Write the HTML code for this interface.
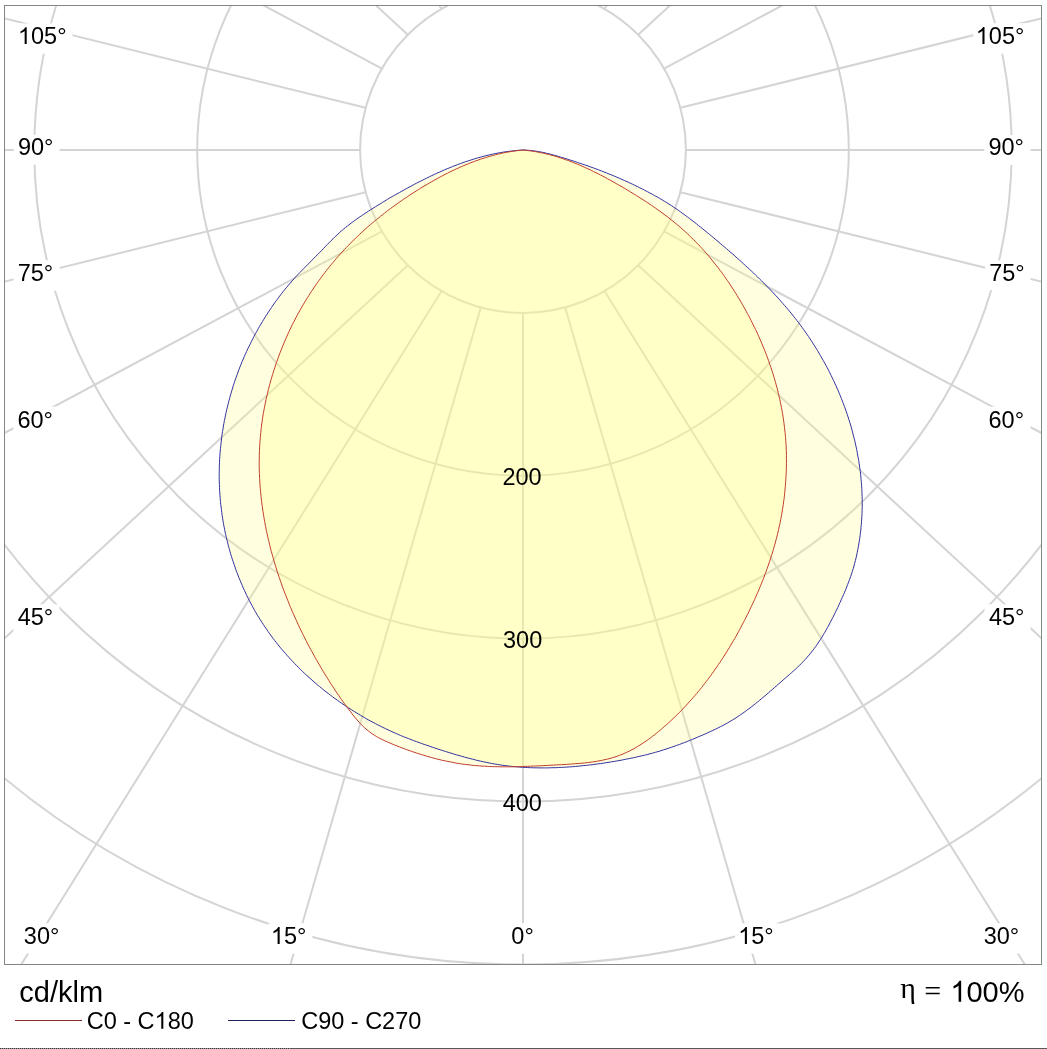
<!DOCTYPE html>
<html><head><meta charset="utf-8"><style>
html,body{margin:0;padding:0;background:#fff;width:1047px;height:1049px;overflow:hidden}
svg{display:block}
.t{font-family:"Liberation Sans",sans-serif;font-size:23.5px;fill:#000}
.t2{font-family:"Liberation Sans",sans-serif;font-size:29px;fill:#000}
.t3{font-family:"Liberation Serif",serif;font-size:30px;fill:#000}
</style></head><body>
<svg width="1047" height="1049" viewBox="0 0 1047 1049">
<defs><clipPath id="bx"><rect x="5" y="6" width="1036" height="958"/></clipPath></defs>
<rect x="0" y="0" width="1047" height="1049" fill="#fff"/>
<g clip-path="url(#bx)">
<circle cx="523.0" cy="150.0" r="162.9" fill="none" stroke="#d4d4d4" stroke-width="2"/>
<circle cx="523.0" cy="150.0" r="325.8" fill="none" stroke="#d4d4d4" stroke-width="2"/>
<circle cx="523.0" cy="150.0" r="488.7" fill="none" stroke="#d4d4d4" stroke-width="2"/>
<circle cx="523.0" cy="150.0" r="651.6" fill="none" stroke="#d4d4d4" stroke-width="2"/>
<circle cx="523.0" cy="150.0" r="814.5" fill="none" stroke="#d4d4d4" stroke-width="2"/>
<line x1="523.00" y1="312.90" x2="523.00" y2="965.00" stroke="#d4d4d4" stroke-width="2"/>
<line x1="480.84" y1="307.35" x2="290.33" y2="965.00" stroke="#d4d4d4" stroke-width="2"/>
<line x1="565.16" y1="307.35" x2="755.67" y2="965.00" stroke="#d4d4d4" stroke-width="2"/>
<line x1="441.55" y1="291.08" x2="20.91" y2="965.00" stroke="#d4d4d4" stroke-width="2"/>
<line x1="604.45" y1="291.08" x2="1025.09" y2="965.00" stroke="#d4d4d4" stroke-width="2"/>
<line x1="407.81" y1="265.19" x2="4.00" y2="638.71" stroke="#d4d4d4" stroke-width="2"/>
<line x1="638.19" y1="265.19" x2="1042.00" y2="638.71" stroke="#d4d4d4" stroke-width="2"/>
<line x1="381.92" y1="231.45" x2="4.00" y2="433.28" stroke="#d4d4d4" stroke-width="2"/>
<line x1="664.08" y1="231.45" x2="1042.00" y2="433.28" stroke="#d4d4d4" stroke-width="2"/>
<line x1="365.65" y1="192.16" x2="4.00" y2="281.80" stroke="#d4d4d4" stroke-width="2"/>
<line x1="680.35" y1="192.16" x2="1042.00" y2="281.80" stroke="#d4d4d4" stroke-width="2"/>
<line x1="360.10" y1="150.00" x2="4.00" y2="150.00" stroke="#d4d4d4" stroke-width="2"/>
<line x1="685.90" y1="150.00" x2="1042.00" y2="150.00" stroke="#d4d4d4" stroke-width="2"/>
<line x1="365.65" y1="107.84" x2="4.00" y2="18.20" stroke="#d4d4d4" stroke-width="2"/>
<line x1="680.35" y1="107.84" x2="1042.00" y2="18.20" stroke="#d4d4d4" stroke-width="2"/>
<line x1="381.92" y1="68.55" x2="262.93" y2="5.00" stroke="#d4d4d4" stroke-width="2"/>
<line x1="664.08" y1="68.55" x2="783.07" y2="5.00" stroke="#d4d4d4" stroke-width="2"/>
<line x1="407.81" y1="34.81" x2="375.58" y2="5.00" stroke="#d4d4d4" stroke-width="2"/>
<line x1="638.19" y1="34.81" x2="670.42" y2="5.00" stroke="#d4d4d4" stroke-width="2"/>
<line x1="441.55" y1="8.92" x2="439.10" y2="5.00" stroke="#d4d4d4" stroke-width="2"/>
<line x1="604.45" y1="8.92" x2="606.90" y2="5.00" stroke="#d4d4d4" stroke-width="2"/>
<line x1="480.84" y1="-7.35" x2="484.42" y2="5.00" stroke="#d4d4d4" stroke-width="2"/>
<line x1="565.16" y1="-7.35" x2="561.58" y2="5.00" stroke="#d4d4d4" stroke-width="2"/>
<line x1="523.00" y1="-12.90" x2="523.00" y2="5.00" stroke="#d4d4d4" stroke-width="2"/>
<polygon points="523.0,150.0 520.2,150.2 517.4,150.4 514.6,150.7 511.8,151.0 509.0,151.3 506.2,151.7 503.4,152.1 500.7,152.6 497.9,153.1 495.2,153.6 492.4,154.2 489.7,154.8 487.0,155.4 484.3,156.1 481.6,156.8 478.9,157.6 476.2,158.3 473.5,159.2 470.9,160.0 468.2,160.9 465.5,161.7 462.9,162.7 460.3,163.6 457.6,164.6 455.0,165.6 452.4,166.6 449.8,167.7 447.2,168.7 444.6,169.8 442.0,171.0 439.5,172.1 436.9,173.2 434.4,174.4 431.8,175.6 429.3,176.8 426.8,178.1 424.2,179.3 421.7,180.6 419.2,181.8 416.7,183.1 414.2,184.4 411.8,185.7 409.3,187.1 406.8,188.4 404.4,189.7 401.9,191.1 399.5,192.5 397.1,193.8 394.7,195.2 392.2,196.6 389.8,198.0 387.4,199.4 385.0,200.9 382.6,202.3 380.3,203.8 377.9,205.2 375.5,206.7 373.1,208.2 370.8,209.7 368.4,211.2 366.1,212.7 363.7,214.3 361.4,215.8 359.1,217.4 356.8,219.0 354.5,220.6 352.2,222.3 350.0,224.0 347.8,225.7 345.6,227.4 343.5,229.2 341.3,231.0 339.2,232.9 337.2,234.8 335.1,236.7 333.1,238.7 331.1,240.6 329.2,242.6 327.2,244.6 325.3,246.6 323.3,248.7 321.4,250.7 319.4,252.7 317.4,254.7 315.5,256.7 313.5,258.7 311.5,260.7 309.6,262.7 307.6,264.7 305.6,266.7 303.6,268.7 301.7,270.7 299.7,272.7 297.8,274.7 295.9,276.7 294.0,278.8 292.1,280.9 290.3,283.0 288.5,285.1 286.7,287.3 284.9,289.4 283.1,291.6 281.4,293.8 279.7,296.1 278.0,298.3 276.3,300.6 274.7,302.8 273.1,305.1 271.5,307.5 269.9,309.8 268.4,312.1 266.8,314.5 265.3,316.8 263.9,319.2 262.4,321.6 261.0,324.0 259.5,326.4 258.1,328.9 256.8,331.3 255.4,333.8 254.1,336.3 252.8,338.8 251.5,341.3 250.3,343.8 249.0,346.3 247.8,348.8 246.6,351.4 245.5,353.9 244.3,356.5 243.2,359.1 242.1,361.6 241.1,364.2 240.0,366.8 239.0,369.5 238.0,372.1 237.1,374.7 236.1,377.4 235.2,380.0 234.3,382.7 233.4,385.3 232.6,388.0 231.8,390.7 231.0,393.4 230.2,396.1 229.5,398.8 228.7,401.5 228.1,404.2 227.4,406.9 226.7,409.7 226.1,412.4 225.5,415.1 225.0,417.9 224.4,420.6 223.9,423.4 223.4,426.1 223.0,428.9 222.5,431.7 222.1,434.4 221.7,437.2 221.4,440.0 221.1,442.8 220.8,445.5 220.5,448.3 220.2,451.1 220.0,453.9 219.8,456.7 219.6,459.5 219.5,462.3 219.4,465.1 219.3,467.9 219.3,470.7 219.2,473.5 219.2,476.3 219.2,479.1 219.3,481.9 219.4,484.7 219.5,487.5 219.6,490.3 219.8,493.1 220.0,495.9 220.2,498.7 220.5,501.5 220.7,504.3 221.1,507.0 221.4,509.8 221.8,512.6 222.1,515.4 222.6,518.2 223.0,520.9 223.5,523.7 224.0,526.5 224.6,529.2 225.1,532.0 225.7,534.7 226.3,537.5 227.0,540.2 227.7,542.9 228.4,545.7 229.1,548.4 229.9,551.1 230.6,553.8 231.5,556.5 232.3,559.2 233.2,561.8 234.1,564.5 235.0,567.1 235.9,569.8 236.9,572.4 237.9,575.0 238.9,577.6 240.0,580.2 241.1,582.8 242.2,585.4 243.3,588.0 244.5,590.5 245.6,593.0 246.8,595.6 248.1,598.1 249.3,600.5 250.6,603.0 251.9,605.5 253.3,607.9 254.6,610.4 256.0,612.8 257.4,615.2 258.9,617.6 260.4,619.9 261.9,622.3 263.4,624.6 264.9,626.9 266.5,629.2 268.1,631.5 269.7,633.8 271.3,636.0 273.0,638.3 274.7,640.5 276.4,642.7 278.2,644.9 279.9,647.1 281.7,649.2 283.5,651.3 285.4,653.4 287.2,655.5 289.1,657.6 291.0,659.7 292.9,661.7 294.8,663.7 296.8,665.7 298.7,667.7 300.7,669.7 302.7,671.6 304.8,673.6 306.8,675.5 308.9,677.4 311.0,679.2 313.1,681.1 315.2,682.9 317.3,684.8 319.5,686.5 321.7,688.3 323.8,690.1 326.0,691.8 328.3,693.5 330.5,695.2 332.7,696.9 335.0,698.6 337.3,700.2 339.6,701.8 341.9,703.4 344.2,705.0 346.5,706.6 348.9,708.1 351.2,709.6 353.6,711.1 356.0,712.6 358.4,714.0 360.8,715.5 363.2,716.9 365.6,718.3 368.0,719.7 370.5,721.0 373.0,722.3 375.4,723.6 377.9,724.9 380.4,726.2 382.9,727.4 385.4,728.6 388.0,729.8 390.5,731.0 393.0,732.2 395.6,733.3 398.2,734.4 400.7,735.5 403.3,736.6 405.9,737.6 408.5,738.6 411.1,739.6 413.7,740.6 416.3,741.6 419.0,742.5 421.6,743.5 424.2,744.4 426.9,745.3 429.5,746.2 432.2,747.1 434.8,748.0 437.5,748.9 440.2,749.8 442.8,750.6 445.5,751.5 448.2,752.3 450.9,753.1 453.6,754.0 456.3,754.8 459.0,755.5 461.7,756.3 464.4,757.1 467.1,757.8 469.9,758.5 472.6,759.2 475.3,759.9 478.1,760.6 480.8,761.2 483.5,761.8 486.3,762.4 489.0,762.9 491.8,763.5 494.5,764.0 497.3,764.4 500.1,764.9 502.8,765.3 505.6,765.6 508.4,766.0 511.1,766.3 513.9,766.6 516.7,766.8 519.5,767.1 522.3,767.3 525.1,767.4 527.8,767.6 530.6,767.7 533.4,767.8 536.2,767.8 539.0,767.9 541.8,767.9 544.6,767.9 547.4,767.9 550.2,767.8 553.0,767.7 555.8,767.7 558.6,767.5 561.4,767.4 564.2,767.2 567.0,767.1 569.8,766.9 572.6,766.7 575.4,766.4 578.2,766.2 581.0,765.9 583.8,765.6 586.6,765.3 589.4,765.0 592.2,764.7 595.0,764.3 597.8,763.9 600.6,763.6 603.4,763.2 606.1,762.7 608.9,762.3 611.7,761.8 614.4,761.4 617.2,760.9 620.0,760.4 622.7,759.9 625.5,759.3 628.2,758.8 630.9,758.2 633.7,757.7 636.4,757.1 639.1,756.4 641.8,755.8 644.6,755.2 647.3,754.5 650.0,753.8 652.7,753.1 655.4,752.3 658.0,751.6 660.7,750.8 663.4,749.9 666.1,749.1 668.7,748.2 671.4,747.3 674.0,746.4 676.7,745.4 679.3,744.5 681.9,743.5 684.6,742.5 687.2,741.5 689.8,740.4 692.4,739.4 695.0,738.3 697.5,737.2 700.1,736.1 702.7,735.0 705.3,733.9 707.8,732.7 710.3,731.6 712.9,730.4 715.4,729.2 717.9,728.0 720.4,726.7 722.8,725.5 725.3,724.2 727.7,722.8 730.1,721.4 732.5,720.0 734.9,718.5 737.2,717.0 739.5,715.5 741.8,713.9 744.1,712.3 746.4,710.6 748.6,709.0 750.9,707.3 753.1,705.5 755.3,703.8 757.5,702.0 759.7,700.2 761.8,698.4 764.0,696.6 766.2,694.8 768.3,693.0 770.4,691.1 772.5,689.3 774.7,687.4 776.8,685.6 778.9,683.7 781.0,681.9 783.1,680.0 785.2,678.2 787.3,676.4 789.4,674.6 791.5,672.7 793.5,670.9 795.6,669.1 797.6,667.2 799.6,665.3 801.5,663.3 803.4,661.4 805.3,659.4 807.1,657.3 808.9,655.2 810.7,653.1 812.4,650.9 814.1,648.7 815.7,646.5 817.3,644.2 818.8,641.9 820.4,639.5 821.9,637.2 823.3,634.8 824.8,632.4 826.2,629.9 827.5,627.5 828.9,625.0 830.2,622.5 831.5,620.0 832.8,617.5 834.1,615.0 835.3,612.5 836.5,610.0 837.8,607.5 838.9,604.9 840.1,602.4 841.2,599.8 842.4,597.3 843.5,594.7 844.6,592.2 845.7,589.6 846.7,587.0 847.7,584.4 848.7,581.8 849.7,579.2 850.6,576.6 851.5,574.0 852.4,571.3 853.2,568.7 854.0,566.0 854.7,563.3 855.4,560.5 856.1,557.8 856.7,555.0 857.3,552.3 857.8,549.5 858.3,546.8 858.8,544.0 859.3,541.2 859.7,538.5 860.1,535.7 860.4,532.9 860.8,530.1 861.0,527.4 861.3,524.6 861.5,521.8 861.7,519.0 861.9,516.2 862.0,513.4 862.1,510.6 862.2,507.8 862.2,505.0 862.2,502.3 862.2,499.5 862.1,496.7 862.0,493.9 861.9,491.1 861.8,488.3 861.6,485.5 861.4,482.7 861.1,479.9 860.9,477.2 860.6,474.4 860.3,471.6 859.9,468.8 859.5,466.1 859.1,463.3 858.7,460.5 858.2,457.8 857.7,455.0 857.2,452.3 856.7,449.5 856.1,446.8 855.5,444.0 854.9,441.3 854.2,438.6 853.5,435.9 852.8,433.1 852.1,430.4 851.4,427.7 850.6,425.0 849.8,422.4 848.9,419.7 848.1,417.0 847.2,414.3 846.3,411.7 845.4,409.0 844.4,406.4 843.4,403.7 842.4,401.1 841.4,398.5 840.3,395.9 839.3,393.3 838.2,390.7 837.0,388.1 835.9,385.5 834.7,383.0 833.5,380.4 832.3,377.9 831.1,375.4 829.8,372.8 828.6,370.3 827.3,367.8 825.9,365.3 824.6,362.9 823.2,360.4 821.8,358.0 820.4,355.5 819.0,353.1 817.6,350.7 816.1,348.3 814.6,345.9 813.1,343.5 811.6,341.2 810.0,338.8 808.5,336.5 806.9,334.2 805.3,331.9 803.7,329.6 802.0,327.3 800.4,325.1 798.7,322.8 797.0,320.6 795.3,318.4 793.5,316.2 791.8,314.0 790.0,311.9 788.2,309.7 786.4,307.6 784.6,305.5 782.8,303.4 780.9,301.3 779.1,299.2 777.2,297.1 775.3,295.1 773.4,293.0 771.5,291.0 769.6,289.0 767.6,287.0 765.7,285.0 763.7,283.0 761.7,281.0 759.7,279.1 757.7,277.1 755.7,275.2 753.7,273.2 751.7,271.3 749.6,269.4 747.6,267.5 745.5,265.6 743.4,263.7 741.4,261.8 739.3,259.9 737.2,258.1 735.1,256.2 733.0,254.3 730.9,252.5 728.7,250.7 726.6,248.8 724.5,247.0 722.3,245.2 720.2,243.3 718.0,241.5 715.9,239.7 713.7,237.9 711.6,236.1 709.4,234.3 707.2,232.5 705.1,230.8 702.9,229.0 700.7,227.2 698.5,225.5 696.3,223.7 694.1,222.0 691.9,220.3 689.6,218.6 687.4,216.9 685.1,215.2 682.9,213.6 680.6,211.9 678.3,210.3 676.0,208.7 673.7,207.2 671.4,205.6 669.0,204.1 666.7,202.6 664.3,201.2 661.9,199.7 659.5,198.3 657.1,196.9 654.6,195.6 652.2,194.2 649.7,192.9 647.3,191.6 644.8,190.3 642.3,189.0 639.8,187.8 637.3,186.5 634.8,185.3 632.3,184.1 629.7,182.9 627.2,181.7 624.6,180.6 622.1,179.4 619.5,178.3 616.9,177.2 614.3,176.1 611.7,175.0 609.1,174.0 606.5,172.9 603.9,171.9 601.3,170.9 598.7,169.9 596.0,168.9 593.4,167.9 590.7,167.0 588.1,166.0 585.4,165.1 582.8,164.2 580.1,163.3 577.4,162.4 574.8,161.5 572.1,160.6 569.4,159.8 566.7,158.9 564.1,158.1 561.4,157.3 558.7,156.5 556.0,155.7 553.3,155.0 550.6,154.2 547.9,153.6 545.2,152.9 542.4,152.3 539.7,151.8 536.9,151.3 534.2,150.9 531.4,150.6 528.6,150.3 525.8,150.1 523.0,150.0" fill="#ffff88" fill-opacity="0.27"/>
<polygon points="523.0,150.0 520.4,150.3 517.8,150.6 515.3,150.9 512.7,151.3 510.2,151.7 507.7,152.1 505.1,152.6 502.6,153.1 500.1,153.7 497.6,154.2 495.2,154.9 492.7,155.5 490.2,156.2 487.8,156.9 485.3,157.7 482.9,158.4 480.5,159.2 478.1,160.1 475.7,160.9 473.3,161.8 470.9,162.7 468.5,163.7 466.1,164.6 463.8,165.6 461.4,166.6 459.1,167.7 456.8,168.7 454.4,169.8 452.1,170.9 449.8,172.0 447.5,173.2 445.2,174.3 443.0,175.5 440.7,176.7 438.4,177.9 436.2,179.2 433.9,180.4 431.7,181.7 429.5,183.0 427.2,184.3 425.0,185.6 422.8,186.9 420.6,188.2 418.4,189.6 416.2,191.0 414.1,192.3 411.9,193.7 409.7,195.1 407.6,196.6 405.5,198.0 403.3,199.4 401.2,200.9 399.1,202.4 397.0,203.9 394.9,205.4 392.8,206.9 390.7,208.4 388.7,209.9 386.6,211.5 384.6,213.1 382.6,214.7 380.6,216.2 378.6,217.9 376.6,219.5 374.6,221.1 372.6,222.8 370.7,224.4 368.7,226.1 366.8,227.8 364.9,229.5 363.0,231.2 361.1,233.0 359.2,234.7 357.4,236.5 355.5,238.2 353.7,240.0 351.9,241.8 350.1,243.6 348.3,245.5 346.5,247.3 344.7,249.2 343.0,251.0 341.3,252.9 339.6,254.8 337.9,256.7 336.2,258.7 334.5,260.6 332.9,262.6 331.2,264.5 329.6,266.5 328.0,268.5 326.4,270.5 324.9,272.5 323.3,274.6 321.8,276.6 320.3,278.7 318.8,280.7 317.3,282.8 315.8,284.9 314.4,287.0 313.0,289.1 311.6,291.3 310.2,293.4 308.8,295.6 307.4,297.7 306.1,299.9 304.7,302.1 303.4,304.3 302.1,306.5 300.9,308.7 299.6,310.9 298.4,313.2 297.1,315.4 295.9,317.7 294.8,320.0 293.6,322.2 292.4,324.5 291.3,326.8 290.2,329.1 289.1,331.5 288.0,333.8 287.0,336.1 285.9,338.5 284.9,340.8 283.9,343.2 282.9,345.6 281.9,348.0 281.0,350.3 280.1,352.7 279.1,355.1 278.3,357.6 277.4,360.0 276.5,362.4 275.7,364.8 274.9,367.3 274.1,369.7 273.3,372.2 272.5,374.7 271.8,377.1 271.1,379.6 270.4,382.1 269.7,384.6 269.0,387.1 268.4,389.6 267.8,392.1 267.2,394.6 266.6,397.1 266.0,399.6 265.5,402.1 265.0,404.7 264.5,407.2 264.0,409.7 263.6,412.2 263.1,414.8 262.7,417.3 262.3,419.9 262.0,422.4 261.6,425.0 261.3,427.5 261.0,430.0 260.8,432.6 260.5,435.1 260.3,437.7 260.1,440.2 259.9,442.8 259.7,445.4 259.6,447.9 259.5,450.5 259.4,453.0 259.3,455.6 259.3,458.1 259.2,460.7 259.2,463.2 259.2,465.8 259.3,468.3 259.3,470.9 259.4,473.4 259.5,476.0 259.6,478.5 259.8,481.1 259.9,483.6 260.1,486.2 260.3,488.7 260.5,491.3 260.8,493.8 261.0,496.3 261.3,498.9 261.6,501.4 261.9,503.9 262.3,506.5 262.6,509.0 263.0,511.5 263.4,514.1 263.8,516.6 264.2,519.1 264.7,521.6 265.1,524.2 265.6,526.7 266.1,529.2 266.6,531.7 267.2,534.2 267.7,536.7 268.3,539.2 268.9,541.7 269.5,544.2 270.1,546.7 270.7,549.2 271.4,551.7 272.1,554.2 272.8,556.6 273.5,559.1 274.2,561.6 274.9,564.0 275.7,566.5 276.4,569.0 277.2,571.4 278.0,573.9 278.8,576.3 279.7,578.8 280.5,581.2 281.4,583.6 282.2,586.1 283.1,588.5 284.0,590.9 284.9,593.3 285.9,595.7 286.8,598.1 287.8,600.5 288.7,602.9 289.7,605.3 290.7,607.7 291.7,610.1 292.7,612.4 293.8,614.8 294.8,617.1 295.9,619.5 297.0,621.8 298.0,624.2 299.1,626.5 300.2,628.8 301.4,631.2 302.5,633.5 303.6,635.8 304.8,638.1 306.0,640.4 307.1,642.7 308.3,644.9 309.5,647.2 310.7,649.5 312.0,651.7 313.2,654.0 314.4,656.2 315.7,658.5 317.0,660.7 318.2,662.9 319.5,665.1 320.8,667.3 322.1,669.5 323.4,671.7 324.7,673.9 326.1,676.1 327.4,678.2 328.8,680.4 330.1,682.5 331.5,684.7 332.9,686.8 334.3,688.9 335.7,691.1 337.1,693.2 338.6,695.3 340.0,697.4 341.5,699.5 343.0,701.6 344.5,703.7 346.0,705.7 347.5,707.8 349.1,709.9 350.7,711.9 352.2,714.0 353.8,716.0 355.5,718.1 357.2,720.0 358.9,722.0 360.6,723.8 362.4,725.7 364.2,727.4 366.1,729.1 368.1,730.7 370.0,732.2 372.1,733.7 374.2,735.1 376.3,736.4 378.5,737.7 380.7,738.8 382.9,739.9 385.2,741.0 387.5,742.0 389.9,743.0 392.2,744.0 394.6,745.0 397.0,745.9 399.4,746.9 401.8,747.8 404.2,748.7 406.6,749.6 409.1,750.5 411.5,751.3 414.0,752.2 416.5,753.0 418.9,753.8 421.4,754.6 423.9,755.3 426.4,756.1 428.9,756.8 431.4,757.5 434.0,758.2 436.5,758.9 439.0,759.5 441.5,760.1 444.1,760.7 446.6,761.2 449.1,761.7 451.7,762.2 454.2,762.7 456.7,763.2 459.3,763.6 461.8,764.0 464.3,764.3 466.9,764.6 469.4,764.9 471.9,765.2 474.4,765.5 477.0,765.7 479.5,765.9 482.0,766.1 484.6,766.2 487.1,766.4 489.6,766.5 492.2,766.6 494.7,766.7 497.2,766.7 499.8,766.8 502.3,766.8 504.8,766.8 507.4,766.8 509.9,766.8 512.5,766.8 515.0,766.7 517.6,766.7 520.1,766.6 522.7,766.5 525.2,766.4 527.8,766.3 530.3,766.2 532.9,766.1 535.5,766.0 538.1,765.9 540.6,765.8 543.2,765.6 545.8,765.5 548.4,765.4 551.0,765.2 553.6,765.1 556.2,764.9 558.8,764.8 561.4,764.7 564.0,764.5 566.6,764.4 569.2,764.2 571.8,764.0 574.4,763.8 577.0,763.6 579.6,763.4 582.2,763.2 584.8,762.9 587.4,762.6 589.9,762.3 592.5,761.9 595.0,761.6 597.6,761.1 600.1,760.7 602.6,760.2 605.1,759.6 607.6,759.1 610.0,758.4 612.5,757.7 614.9,757.0 617.3,756.2 619.6,755.3 622.0,754.4 624.3,753.4 626.6,752.4 628.9,751.3 631.1,750.1 633.4,749.0 635.6,747.7 637.8,746.4 639.9,745.1 642.1,743.7 644.2,742.3 646.3,740.9 648.4,739.4 650.5,737.9 652.5,736.3 654.5,734.8 656.5,733.2 658.5,731.5 660.5,729.9 662.5,728.2 664.4,726.5 666.4,724.8 668.3,723.1 670.2,721.4 672.0,719.6 673.9,717.9 675.7,716.1 677.6,714.3 679.4,712.5 681.2,710.6 683.0,708.8 684.7,706.9 686.5,705.0 688.2,703.1 689.9,701.2 691.7,699.3 693.3,697.4 695.0,695.4 696.7,693.5 698.3,691.5 700.0,689.5 701.6,687.5 703.2,685.5 704.7,683.5 706.3,681.4 707.9,679.4 709.4,677.3 710.9,675.3 712.4,673.2 713.9,671.1 715.4,669.0 716.9,666.9 718.3,664.7 719.8,662.6 721.2,660.4 722.6,658.3 724.0,656.1 725.4,654.0 726.8,651.8 728.1,649.6 729.5,647.4 730.8,645.2 732.1,642.9 733.4,640.7 734.7,638.5 736.0,636.3 737.2,634.0 738.5,631.7 739.7,629.5 740.9,627.2 742.1,624.9 743.3,622.7 744.5,620.4 745.7,618.1 746.8,615.8 748.0,613.5 749.1,611.2 750.2,608.9 751.3,606.6 752.4,604.2 753.5,601.9 754.6,599.6 755.6,597.2 756.6,594.9 757.7,592.6 758.7,590.2 759.7,587.9 760.6,585.5 761.6,583.1 762.6,580.7 763.5,578.4 764.4,576.0 765.3,573.6 766.2,571.2 767.1,568.8 767.9,566.4 768.7,564.0 769.6,561.6 770.4,559.1 771.1,556.7 771.9,554.3 772.7,551.8 773.4,549.4 774.1,546.9 774.8,544.5 775.5,542.0 776.1,539.6 776.8,537.1 777.4,534.6 778.0,532.1 778.6,529.6 779.1,527.1 779.7,524.6 780.2,522.1 780.7,519.6 781.2,517.1 781.6,514.5 782.1,512.0 782.5,509.5 782.9,506.9 783.3,504.4 783.6,501.8 784.0,499.3 784.3,496.7 784.6,494.2 784.8,491.6 785.1,489.1 785.3,486.5 785.5,483.9 785.7,481.4 785.9,478.8 786.0,476.2 786.2,473.7 786.3,471.1 786.3,468.5 786.4,466.0 786.4,463.4 786.5,460.8 786.4,458.3 786.4,455.7 786.4,453.1 786.3,450.6 786.2,448.0 786.1,445.4 785.9,442.9 785.7,440.3 785.6,437.7 785.3,435.2 785.1,432.6 784.8,430.1 784.5,427.5 784.2,425.0 783.9,422.5 783.5,419.9 783.2,417.4 782.8,414.9 782.3,412.3 781.9,409.8 781.4,407.3 780.9,404.8 780.4,402.3 779.9,399.8 779.3,397.3 778.7,394.8 778.1,392.3 777.5,389.8 776.9,387.3 776.2,384.9 775.5,382.4 774.8,379.9 774.1,377.5 773.4,375.0 772.6,372.6 771.8,370.1 771.0,367.7 770.2,365.3 769.3,362.9 768.5,360.4 767.6,358.0 766.7,355.6 765.8,353.2 764.8,350.8 763.9,348.4 762.9,346.1 761.9,343.7 760.9,341.3 759.9,339.0 758.8,336.6 757.8,334.3 756.7,331.9 755.6,329.6 754.5,327.3 753.3,325.0 752.2,322.7 751.0,320.4 749.9,318.1 748.7,315.8 747.4,313.5 746.2,311.3 745.0,309.0 743.7,306.8 742.4,304.5 741.2,302.3 739.9,300.1 738.5,297.9 737.2,295.7 735.8,293.5 734.5,291.3 733.1,289.1 731.7,287.0 730.3,284.8 728.9,282.7 727.4,280.6 725.9,278.5 724.5,276.4 723.0,274.3 721.5,272.2 719.9,270.2 718.4,268.1 716.8,266.1 715.2,264.1 713.6,262.1 712.0,260.1 710.4,258.1 708.8,256.1 707.1,254.2 705.4,252.3 703.7,250.4 702.0,248.5 700.3,246.6 698.5,244.7 696.8,242.9 695.0,241.1 693.2,239.3 691.3,237.5 689.5,235.7 687.7,233.9 685.8,232.2 683.9,230.5 682.0,228.8 680.1,227.1 678.1,225.5 676.2,223.8 674.2,222.2 672.2,220.6 670.2,219.0 668.2,217.4 666.1,215.9 664.1,214.3 662.0,212.8 660.0,211.3 657.9,209.8 655.8,208.3 653.7,206.8 651.6,205.4 649.4,203.9 647.3,202.5 645.1,201.1 643.0,199.7 640.8,198.3 638.6,196.9 636.4,195.5 634.2,194.2 632.0,192.8 629.8,191.5 627.6,190.2 625.4,188.8 623.2,187.5 620.9,186.2 618.7,185.0 616.4,183.7 614.2,182.4 611.9,181.1 609.7,179.9 607.4,178.7 605.1,177.4 602.8,176.2 600.5,175.0 598.3,173.9 596.0,172.7 593.6,171.6 591.3,170.4 589.0,169.3 586.7,168.3 584.3,167.2 582.0,166.1 579.6,165.1 577.3,164.1 574.9,163.2 572.5,162.2 570.1,161.3 567.8,160.4 565.3,159.6 562.9,158.7 560.5,157.9 558.1,157.1 555.6,156.4 553.2,155.7 550.7,155.0 548.3,154.4 545.8,153.8 543.3,153.2 540.8,152.7 538.3,152.2 535.8,151.7 533.2,151.3 530.7,150.9 528.1,150.6 525.6,150.3 523.0,150.0" fill="#ffff88" fill-opacity="0.27"/>
<polygon points="523.0,150.0 520.2,150.2 517.4,150.4 514.6,150.7 511.8,151.0 509.0,151.3 506.2,151.7 503.4,152.1 500.7,152.6 497.9,153.1 495.2,153.6 492.4,154.2 489.7,154.8 487.0,155.4 484.3,156.1 481.6,156.8 478.9,157.6 476.2,158.3 473.5,159.2 470.9,160.0 468.2,160.9 465.5,161.7 462.9,162.7 460.3,163.6 457.6,164.6 455.0,165.6 452.4,166.6 449.8,167.7 447.2,168.7 444.6,169.8 442.0,171.0 439.5,172.1 436.9,173.2 434.4,174.4 431.8,175.6 429.3,176.8 426.8,178.1 424.2,179.3 421.7,180.6 419.2,181.8 416.7,183.1 414.2,184.4 411.8,185.7 409.3,187.1 406.8,188.4 404.4,189.7 401.9,191.1 399.5,192.5 397.1,193.8 394.7,195.2 392.2,196.6 389.8,198.0 387.4,199.4 385.0,200.9 382.6,202.3 380.3,203.8 377.9,205.2 375.5,206.7 373.1,208.2 370.8,209.7 368.4,211.2 366.1,212.7 363.7,214.3 361.4,215.8 359.1,217.4 356.8,219.0 354.5,220.6 352.2,222.3 350.0,224.0 347.8,225.7 345.6,227.4 343.5,229.2 341.3,231.0 339.2,232.9 337.2,234.8 335.1,236.7 333.1,238.7 331.1,240.6 329.2,242.6 327.2,244.6 325.3,246.6 323.3,248.7 321.4,250.7 319.4,252.7 317.4,254.7 315.5,256.7 313.5,258.7 311.5,260.7 309.6,262.7 307.6,264.7 305.6,266.7 303.6,268.7 301.7,270.7 299.7,272.7 297.8,274.7 295.9,276.7 294.0,278.8 292.1,280.9 290.3,283.0 288.5,285.1 286.7,287.3 284.9,289.4 283.1,291.6 281.4,293.8 279.7,296.1 278.0,298.3 276.3,300.6 274.7,302.8 273.1,305.1 271.5,307.5 269.9,309.8 268.4,312.1 266.8,314.5 265.3,316.8 263.9,319.2 262.4,321.6 261.0,324.0 259.5,326.4 258.1,328.9 256.8,331.3 255.4,333.8 254.1,336.3 252.8,338.8 251.5,341.3 250.3,343.8 249.0,346.3 247.8,348.8 246.6,351.4 245.5,353.9 244.3,356.5 243.2,359.1 242.1,361.6 241.1,364.2 240.0,366.8 239.0,369.5 238.0,372.1 237.1,374.7 236.1,377.4 235.2,380.0 234.3,382.7 233.4,385.3 232.6,388.0 231.8,390.7 231.0,393.4 230.2,396.1 229.5,398.8 228.7,401.5 228.1,404.2 227.4,406.9 226.7,409.7 226.1,412.4 225.5,415.1 225.0,417.9 224.4,420.6 223.9,423.4 223.4,426.1 223.0,428.9 222.5,431.7 222.1,434.4 221.7,437.2 221.4,440.0 221.1,442.8 220.8,445.5 220.5,448.3 220.2,451.1 220.0,453.9 219.8,456.7 219.6,459.5 219.5,462.3 219.4,465.1 219.3,467.9 219.3,470.7 219.2,473.5 219.2,476.3 219.2,479.1 219.3,481.9 219.4,484.7 219.5,487.5 219.6,490.3 219.8,493.1 220.0,495.9 220.2,498.7 220.5,501.5 220.7,504.3 221.1,507.0 221.4,509.8 221.8,512.6 222.1,515.4 222.6,518.2 223.0,520.9 223.5,523.7 224.0,526.5 224.6,529.2 225.1,532.0 225.7,534.7 226.3,537.5 227.0,540.2 227.7,542.9 228.4,545.7 229.1,548.4 229.9,551.1 230.6,553.8 231.5,556.5 232.3,559.2 233.2,561.8 234.1,564.5 235.0,567.1 235.9,569.8 236.9,572.4 237.9,575.0 238.9,577.6 240.0,580.2 241.1,582.8 242.2,585.4 243.3,588.0 244.5,590.5 245.6,593.0 246.8,595.6 248.1,598.1 249.3,600.5 250.6,603.0 251.9,605.5 253.3,607.9 254.6,610.4 256.0,612.8 257.4,615.2 258.9,617.6 260.4,619.9 261.9,622.3 263.4,624.6 264.9,626.9 266.5,629.2 268.1,631.5 269.7,633.8 271.3,636.0 273.0,638.3 274.7,640.5 276.4,642.7 278.2,644.9 279.9,647.1 281.7,649.2 283.5,651.3 285.4,653.4 287.2,655.5 289.1,657.6 291.0,659.7 292.9,661.7 294.8,663.7 296.8,665.7 298.7,667.7 300.7,669.7 302.7,671.6 304.8,673.6 306.8,675.5 308.9,677.4 311.0,679.2 313.1,681.1 315.2,682.9 317.3,684.8 319.5,686.5 321.7,688.3 323.8,690.1 326.0,691.8 328.3,693.5 330.5,695.2 332.7,696.9 335.0,698.6 337.3,700.2 339.6,701.8 341.9,703.4 344.2,705.0 346.5,706.6 348.9,708.1 351.2,709.6 353.6,711.1 356.0,712.6 358.4,714.0 360.8,715.5 363.2,716.9 365.6,718.3 368.0,719.7 370.5,721.0 373.0,722.3 375.4,723.6 377.9,724.9 380.4,726.2 382.9,727.4 385.4,728.6 388.0,729.8 390.5,731.0 393.0,732.2 395.6,733.3 398.2,734.4 400.7,735.5 403.3,736.6 405.9,737.6 408.5,738.6 411.1,739.6 413.7,740.6 416.3,741.6 419.0,742.5 421.6,743.5 424.2,744.4 426.9,745.3 429.5,746.2 432.2,747.1 434.8,748.0 437.5,748.9 440.2,749.8 442.8,750.6 445.5,751.5 448.2,752.3 450.9,753.1 453.6,754.0 456.3,754.8 459.0,755.5 461.7,756.3 464.4,757.1 467.1,757.8 469.9,758.5 472.6,759.2 475.3,759.9 478.1,760.6 480.8,761.2 483.5,761.8 486.3,762.4 489.0,762.9 491.8,763.5 494.5,764.0 497.3,764.4 500.1,764.9 502.8,765.3 505.6,765.6 508.4,766.0 511.1,766.3 513.9,766.6 516.7,766.8 519.5,767.1 522.3,767.3 525.1,767.4 527.8,767.6 530.6,767.7 533.4,767.8 536.2,767.8 539.0,767.9 541.8,767.9 544.6,767.9 547.4,767.9 550.2,767.8 553.0,767.7 555.8,767.7 558.6,767.5 561.4,767.4 564.2,767.2 567.0,767.1 569.8,766.9 572.6,766.7 575.4,766.4 578.2,766.2 581.0,765.9 583.8,765.6 586.6,765.3 589.4,765.0 592.2,764.7 595.0,764.3 597.8,763.9 600.6,763.6 603.4,763.2 606.1,762.7 608.9,762.3 611.7,761.8 614.4,761.4 617.2,760.9 620.0,760.4 622.7,759.9 625.5,759.3 628.2,758.8 630.9,758.2 633.7,757.7 636.4,757.1 639.1,756.4 641.8,755.8 644.6,755.2 647.3,754.5 650.0,753.8 652.7,753.1 655.4,752.3 658.0,751.6 660.7,750.8 663.4,749.9 666.1,749.1 668.7,748.2 671.4,747.3 674.0,746.4 676.7,745.4 679.3,744.5 681.9,743.5 684.6,742.5 687.2,741.5 689.8,740.4 692.4,739.4 695.0,738.3 697.5,737.2 700.1,736.1 702.7,735.0 705.3,733.9 707.8,732.7 710.3,731.6 712.9,730.4 715.4,729.2 717.9,728.0 720.4,726.7 722.8,725.5 725.3,724.2 727.7,722.8 730.1,721.4 732.5,720.0 734.9,718.5 737.2,717.0 739.5,715.5 741.8,713.9 744.1,712.3 746.4,710.6 748.6,709.0 750.9,707.3 753.1,705.5 755.3,703.8 757.5,702.0 759.7,700.2 761.8,698.4 764.0,696.6 766.2,694.8 768.3,693.0 770.4,691.1 772.5,689.3 774.7,687.4 776.8,685.6 778.9,683.7 781.0,681.9 783.1,680.0 785.2,678.2 787.3,676.4 789.4,674.6 791.5,672.7 793.5,670.9 795.6,669.1 797.6,667.2 799.6,665.3 801.5,663.3 803.4,661.4 805.3,659.4 807.1,657.3 808.9,655.2 810.7,653.1 812.4,650.9 814.1,648.7 815.7,646.5 817.3,644.2 818.8,641.9 820.4,639.5 821.9,637.2 823.3,634.8 824.8,632.4 826.2,629.9 827.5,627.5 828.9,625.0 830.2,622.5 831.5,620.0 832.8,617.5 834.1,615.0 835.3,612.5 836.5,610.0 837.8,607.5 838.9,604.9 840.1,602.4 841.2,599.8 842.4,597.3 843.5,594.7 844.6,592.2 845.7,589.6 846.7,587.0 847.7,584.4 848.7,581.8 849.7,579.2 850.6,576.6 851.5,574.0 852.4,571.3 853.2,568.7 854.0,566.0 854.7,563.3 855.4,560.5 856.1,557.8 856.7,555.0 857.3,552.3 857.8,549.5 858.3,546.8 858.8,544.0 859.3,541.2 859.7,538.5 860.1,535.7 860.4,532.9 860.8,530.1 861.0,527.4 861.3,524.6 861.5,521.8 861.7,519.0 861.9,516.2 862.0,513.4 862.1,510.6 862.2,507.8 862.2,505.0 862.2,502.3 862.2,499.5 862.1,496.7 862.0,493.9 861.9,491.1 861.8,488.3 861.6,485.5 861.4,482.7 861.1,479.9 860.9,477.2 860.6,474.4 860.3,471.6 859.9,468.8 859.5,466.1 859.1,463.3 858.7,460.5 858.2,457.8 857.7,455.0 857.2,452.3 856.7,449.5 856.1,446.8 855.5,444.0 854.9,441.3 854.2,438.6 853.5,435.9 852.8,433.1 852.1,430.4 851.4,427.7 850.6,425.0 849.8,422.4 848.9,419.7 848.1,417.0 847.2,414.3 846.3,411.7 845.4,409.0 844.4,406.4 843.4,403.7 842.4,401.1 841.4,398.5 840.3,395.9 839.3,393.3 838.2,390.7 837.0,388.1 835.9,385.5 834.7,383.0 833.5,380.4 832.3,377.9 831.1,375.4 829.8,372.8 828.6,370.3 827.3,367.8 825.9,365.3 824.6,362.9 823.2,360.4 821.8,358.0 820.4,355.5 819.0,353.1 817.6,350.7 816.1,348.3 814.6,345.9 813.1,343.5 811.6,341.2 810.0,338.8 808.5,336.5 806.9,334.2 805.3,331.9 803.7,329.6 802.0,327.3 800.4,325.1 798.7,322.8 797.0,320.6 795.3,318.4 793.5,316.2 791.8,314.0 790.0,311.9 788.2,309.7 786.4,307.6 784.6,305.5 782.8,303.4 780.9,301.3 779.1,299.2 777.2,297.1 775.3,295.1 773.4,293.0 771.5,291.0 769.6,289.0 767.6,287.0 765.7,285.0 763.7,283.0 761.7,281.0 759.7,279.1 757.7,277.1 755.7,275.2 753.7,273.2 751.7,271.3 749.6,269.4 747.6,267.5 745.5,265.6 743.4,263.7 741.4,261.8 739.3,259.9 737.2,258.1 735.1,256.2 733.0,254.3 730.9,252.5 728.7,250.7 726.6,248.8 724.5,247.0 722.3,245.2 720.2,243.3 718.0,241.5 715.9,239.7 713.7,237.9 711.6,236.1 709.4,234.3 707.2,232.5 705.1,230.8 702.9,229.0 700.7,227.2 698.5,225.5 696.3,223.7 694.1,222.0 691.9,220.3 689.6,218.6 687.4,216.9 685.1,215.2 682.9,213.6 680.6,211.9 678.3,210.3 676.0,208.7 673.7,207.2 671.4,205.6 669.0,204.1 666.7,202.6 664.3,201.2 661.9,199.7 659.5,198.3 657.1,196.9 654.6,195.6 652.2,194.2 649.7,192.9 647.3,191.6 644.8,190.3 642.3,189.0 639.8,187.8 637.3,186.5 634.8,185.3 632.3,184.1 629.7,182.9 627.2,181.7 624.6,180.6 622.1,179.4 619.5,178.3 616.9,177.2 614.3,176.1 611.7,175.0 609.1,174.0 606.5,172.9 603.9,171.9 601.3,170.9 598.7,169.9 596.0,168.9 593.4,167.9 590.7,167.0 588.1,166.0 585.4,165.1 582.8,164.2 580.1,163.3 577.4,162.4 574.8,161.5 572.1,160.6 569.4,159.8 566.7,158.9 564.1,158.1 561.4,157.3 558.7,156.5 556.0,155.7 553.3,155.0 550.6,154.2 547.9,153.6 545.2,152.9 542.4,152.3 539.7,151.8 536.9,151.3 534.2,150.9 531.4,150.6 528.6,150.3 525.8,150.1 523.0,150.0" fill="none" stroke="#3232a0" stroke-width="1"/>
<polygon points="523.0,150.0 520.4,150.3 517.8,150.6 515.3,150.9 512.7,151.3 510.2,151.7 507.7,152.1 505.1,152.6 502.6,153.1 500.1,153.7 497.6,154.2 495.2,154.9 492.7,155.5 490.2,156.2 487.8,156.9 485.3,157.7 482.9,158.4 480.5,159.2 478.1,160.1 475.7,160.9 473.3,161.8 470.9,162.7 468.5,163.7 466.1,164.6 463.8,165.6 461.4,166.6 459.1,167.7 456.8,168.7 454.4,169.8 452.1,170.9 449.8,172.0 447.5,173.2 445.2,174.3 443.0,175.5 440.7,176.7 438.4,177.9 436.2,179.2 433.9,180.4 431.7,181.7 429.5,183.0 427.2,184.3 425.0,185.6 422.8,186.9 420.6,188.2 418.4,189.6 416.2,191.0 414.1,192.3 411.9,193.7 409.7,195.1 407.6,196.6 405.5,198.0 403.3,199.4 401.2,200.9 399.1,202.4 397.0,203.9 394.9,205.4 392.8,206.9 390.7,208.4 388.7,209.9 386.6,211.5 384.6,213.1 382.6,214.7 380.6,216.2 378.6,217.9 376.6,219.5 374.6,221.1 372.6,222.8 370.7,224.4 368.7,226.1 366.8,227.8 364.9,229.5 363.0,231.2 361.1,233.0 359.2,234.7 357.4,236.5 355.5,238.2 353.7,240.0 351.9,241.8 350.1,243.6 348.3,245.5 346.5,247.3 344.7,249.2 343.0,251.0 341.3,252.9 339.6,254.8 337.9,256.7 336.2,258.7 334.5,260.6 332.9,262.6 331.2,264.5 329.6,266.5 328.0,268.5 326.4,270.5 324.9,272.5 323.3,274.6 321.8,276.6 320.3,278.7 318.8,280.7 317.3,282.8 315.8,284.9 314.4,287.0 313.0,289.1 311.6,291.3 310.2,293.4 308.8,295.6 307.4,297.7 306.1,299.9 304.7,302.1 303.4,304.3 302.1,306.5 300.9,308.7 299.6,310.9 298.4,313.2 297.1,315.4 295.9,317.7 294.8,320.0 293.6,322.2 292.4,324.5 291.3,326.8 290.2,329.1 289.1,331.5 288.0,333.8 287.0,336.1 285.9,338.5 284.9,340.8 283.9,343.2 282.9,345.6 281.9,348.0 281.0,350.3 280.1,352.7 279.1,355.1 278.3,357.6 277.4,360.0 276.5,362.4 275.7,364.8 274.9,367.3 274.1,369.7 273.3,372.2 272.5,374.7 271.8,377.1 271.1,379.6 270.4,382.1 269.7,384.6 269.0,387.1 268.4,389.6 267.8,392.1 267.2,394.6 266.6,397.1 266.0,399.6 265.5,402.1 265.0,404.7 264.5,407.2 264.0,409.7 263.6,412.2 263.1,414.8 262.7,417.3 262.3,419.9 262.0,422.4 261.6,425.0 261.3,427.5 261.0,430.0 260.8,432.6 260.5,435.1 260.3,437.7 260.1,440.2 259.9,442.8 259.7,445.4 259.6,447.9 259.5,450.5 259.4,453.0 259.3,455.6 259.3,458.1 259.2,460.7 259.2,463.2 259.2,465.8 259.3,468.3 259.3,470.9 259.4,473.4 259.5,476.0 259.6,478.5 259.8,481.1 259.9,483.6 260.1,486.2 260.3,488.7 260.5,491.3 260.8,493.8 261.0,496.3 261.3,498.9 261.6,501.4 261.9,503.9 262.3,506.5 262.6,509.0 263.0,511.5 263.4,514.1 263.8,516.6 264.2,519.1 264.7,521.6 265.1,524.2 265.6,526.7 266.1,529.2 266.6,531.7 267.2,534.2 267.7,536.7 268.3,539.2 268.9,541.7 269.5,544.2 270.1,546.7 270.7,549.2 271.4,551.7 272.1,554.2 272.8,556.6 273.5,559.1 274.2,561.6 274.9,564.0 275.7,566.5 276.4,569.0 277.2,571.4 278.0,573.9 278.8,576.3 279.7,578.8 280.5,581.2 281.4,583.6 282.2,586.1 283.1,588.5 284.0,590.9 284.9,593.3 285.9,595.7 286.8,598.1 287.8,600.5 288.7,602.9 289.7,605.3 290.7,607.7 291.7,610.1 292.7,612.4 293.8,614.8 294.8,617.1 295.9,619.5 297.0,621.8 298.0,624.2 299.1,626.5 300.2,628.8 301.4,631.2 302.5,633.5 303.6,635.8 304.8,638.1 306.0,640.4 307.1,642.7 308.3,644.9 309.5,647.2 310.7,649.5 312.0,651.7 313.2,654.0 314.4,656.2 315.7,658.5 317.0,660.7 318.2,662.9 319.5,665.1 320.8,667.3 322.1,669.5 323.4,671.7 324.7,673.9 326.1,676.1 327.4,678.2 328.8,680.4 330.1,682.5 331.5,684.7 332.9,686.8 334.3,688.9 335.7,691.1 337.1,693.2 338.6,695.3 340.0,697.4 341.5,699.5 343.0,701.6 344.5,703.7 346.0,705.7 347.5,707.8 349.1,709.9 350.7,711.9 352.2,714.0 353.8,716.0 355.5,718.1 357.2,720.0 358.9,722.0 360.6,723.8 362.4,725.7 364.2,727.4 366.1,729.1 368.1,730.7 370.0,732.2 372.1,733.7 374.2,735.1 376.3,736.4 378.5,737.7 380.7,738.8 382.9,739.9 385.2,741.0 387.5,742.0 389.9,743.0 392.2,744.0 394.6,745.0 397.0,745.9 399.4,746.9 401.8,747.8 404.2,748.7 406.6,749.6 409.1,750.5 411.5,751.3 414.0,752.2 416.5,753.0 418.9,753.8 421.4,754.6 423.9,755.3 426.4,756.1 428.9,756.8 431.4,757.5 434.0,758.2 436.5,758.9 439.0,759.5 441.5,760.1 444.1,760.7 446.6,761.2 449.1,761.7 451.7,762.2 454.2,762.7 456.7,763.2 459.3,763.6 461.8,764.0 464.3,764.3 466.9,764.6 469.4,764.9 471.9,765.2 474.4,765.5 477.0,765.7 479.5,765.9 482.0,766.1 484.6,766.2 487.1,766.4 489.6,766.5 492.2,766.6 494.7,766.7 497.2,766.7 499.8,766.8 502.3,766.8 504.8,766.8 507.4,766.8 509.9,766.8 512.5,766.8 515.0,766.7 517.6,766.7 520.1,766.6 522.7,766.5 525.2,766.4 527.8,766.3 530.3,766.2 532.9,766.1 535.5,766.0 538.1,765.9 540.6,765.8 543.2,765.6 545.8,765.5 548.4,765.4 551.0,765.2 553.6,765.1 556.2,764.9 558.8,764.8 561.4,764.7 564.0,764.5 566.6,764.4 569.2,764.2 571.8,764.0 574.4,763.8 577.0,763.6 579.6,763.4 582.2,763.2 584.8,762.9 587.4,762.6 589.9,762.3 592.5,761.9 595.0,761.6 597.6,761.1 600.1,760.7 602.6,760.2 605.1,759.6 607.6,759.1 610.0,758.4 612.5,757.7 614.9,757.0 617.3,756.2 619.6,755.3 622.0,754.4 624.3,753.4 626.6,752.4 628.9,751.3 631.1,750.1 633.4,749.0 635.6,747.7 637.8,746.4 639.9,745.1 642.1,743.7 644.2,742.3 646.3,740.9 648.4,739.4 650.5,737.9 652.5,736.3 654.5,734.8 656.5,733.2 658.5,731.5 660.5,729.9 662.5,728.2 664.4,726.5 666.4,724.8 668.3,723.1 670.2,721.4 672.0,719.6 673.9,717.9 675.7,716.1 677.6,714.3 679.4,712.5 681.2,710.6 683.0,708.8 684.7,706.9 686.5,705.0 688.2,703.1 689.9,701.2 691.7,699.3 693.3,697.4 695.0,695.4 696.7,693.5 698.3,691.5 700.0,689.5 701.6,687.5 703.2,685.5 704.7,683.5 706.3,681.4 707.9,679.4 709.4,677.3 710.9,675.3 712.4,673.2 713.9,671.1 715.4,669.0 716.9,666.9 718.3,664.7 719.8,662.6 721.2,660.4 722.6,658.3 724.0,656.1 725.4,654.0 726.8,651.8 728.1,649.6 729.5,647.4 730.8,645.2 732.1,642.9 733.4,640.7 734.7,638.5 736.0,636.3 737.2,634.0 738.5,631.7 739.7,629.5 740.9,627.2 742.1,624.9 743.3,622.7 744.5,620.4 745.7,618.1 746.8,615.8 748.0,613.5 749.1,611.2 750.2,608.9 751.3,606.6 752.4,604.2 753.5,601.9 754.6,599.6 755.6,597.2 756.6,594.9 757.7,592.6 758.7,590.2 759.7,587.9 760.6,585.5 761.6,583.1 762.6,580.7 763.5,578.4 764.4,576.0 765.3,573.6 766.2,571.2 767.1,568.8 767.9,566.4 768.7,564.0 769.6,561.6 770.4,559.1 771.1,556.7 771.9,554.3 772.7,551.8 773.4,549.4 774.1,546.9 774.8,544.5 775.5,542.0 776.1,539.6 776.8,537.1 777.4,534.6 778.0,532.1 778.6,529.6 779.1,527.1 779.7,524.6 780.2,522.1 780.7,519.6 781.2,517.1 781.6,514.5 782.1,512.0 782.5,509.5 782.9,506.9 783.3,504.4 783.6,501.8 784.0,499.3 784.3,496.7 784.6,494.2 784.8,491.6 785.1,489.1 785.3,486.5 785.5,483.9 785.7,481.4 785.9,478.8 786.0,476.2 786.2,473.7 786.3,471.1 786.3,468.5 786.4,466.0 786.4,463.4 786.5,460.8 786.4,458.3 786.4,455.7 786.4,453.1 786.3,450.6 786.2,448.0 786.1,445.4 785.9,442.9 785.7,440.3 785.6,437.7 785.3,435.2 785.1,432.6 784.8,430.1 784.5,427.5 784.2,425.0 783.9,422.5 783.5,419.9 783.2,417.4 782.8,414.9 782.3,412.3 781.9,409.8 781.4,407.3 780.9,404.8 780.4,402.3 779.9,399.8 779.3,397.3 778.7,394.8 778.1,392.3 777.5,389.8 776.9,387.3 776.2,384.9 775.5,382.4 774.8,379.9 774.1,377.5 773.4,375.0 772.6,372.6 771.8,370.1 771.0,367.7 770.2,365.3 769.3,362.9 768.5,360.4 767.6,358.0 766.7,355.6 765.8,353.2 764.8,350.8 763.9,348.4 762.9,346.1 761.9,343.7 760.9,341.3 759.9,339.0 758.8,336.6 757.8,334.3 756.7,331.9 755.6,329.6 754.5,327.3 753.3,325.0 752.2,322.7 751.0,320.4 749.9,318.1 748.7,315.8 747.4,313.5 746.2,311.3 745.0,309.0 743.7,306.8 742.4,304.5 741.2,302.3 739.9,300.1 738.5,297.9 737.2,295.7 735.8,293.5 734.5,291.3 733.1,289.1 731.7,287.0 730.3,284.8 728.9,282.7 727.4,280.6 725.9,278.5 724.5,276.4 723.0,274.3 721.5,272.2 719.9,270.2 718.4,268.1 716.8,266.1 715.2,264.1 713.6,262.1 712.0,260.1 710.4,258.1 708.8,256.1 707.1,254.2 705.4,252.3 703.7,250.4 702.0,248.5 700.3,246.6 698.5,244.7 696.8,242.9 695.0,241.1 693.2,239.3 691.3,237.5 689.5,235.7 687.7,233.9 685.8,232.2 683.9,230.5 682.0,228.8 680.1,227.1 678.1,225.5 676.2,223.8 674.2,222.2 672.2,220.6 670.2,219.0 668.2,217.4 666.1,215.9 664.1,214.3 662.0,212.8 660.0,211.3 657.9,209.8 655.8,208.3 653.7,206.8 651.6,205.4 649.4,203.9 647.3,202.5 645.1,201.1 643.0,199.7 640.8,198.3 638.6,196.9 636.4,195.5 634.2,194.2 632.0,192.8 629.8,191.5 627.6,190.2 625.4,188.8 623.2,187.5 620.9,186.2 618.7,185.0 616.4,183.7 614.2,182.4 611.9,181.1 609.7,179.9 607.4,178.7 605.1,177.4 602.8,176.2 600.5,175.0 598.3,173.9 596.0,172.7 593.6,171.6 591.3,170.4 589.0,169.3 586.7,168.3 584.3,167.2 582.0,166.1 579.6,165.1 577.3,164.1 574.9,163.2 572.5,162.2 570.1,161.3 567.8,160.4 565.3,159.6 562.9,158.7 560.5,157.9 558.1,157.1 555.6,156.4 553.2,155.7 550.7,155.0 548.3,154.4 545.8,153.8 543.3,153.2 540.8,152.7 538.3,152.2 535.8,151.7 533.2,151.3 530.7,150.9 528.1,150.6 525.6,150.3 523.0,150.0" fill="none" stroke="#c03c2c" stroke-width="1"/>
</g>
<rect x="15.1" y="23.4" width="57.4" height="30.2" fill="#fff"/>
<rect x="13.9" y="134.7" width="45.8" height="30.0" fill="#fff"/>
<rect x="13.6" y="260.2" width="46.2" height="30.5" fill="#fff"/>
<rect x="13.3" y="406.6" width="46.3" height="30.1" fill="#fff"/>
<rect x="13.3" y="604.3" width="46.2" height="30.4" fill="#fff"/>
<rect x="19.7" y="923.3" width="46.0" height="30.3" fill="#fff"/>
<rect x="268.3" y="923.3" width="44.1" height="30.3" fill="#fff"/>
<rect x="507.1" y="923.3" width="32.5" height="30.4" fill="#fff"/>
<rect x="735.0" y="923.3" width="44.8" height="30.3" fill="#fff"/>
<rect x="979.9" y="923.3" width="45.4" height="30.3" fill="#fff"/>
<rect x="973.3" y="23.2" width="57.0" height="30.5" fill="#fff"/>
<rect x="984.3" y="135.1" width="46.3" height="29.8" fill="#fff"/>
<rect x="985.2" y="260.4" width="45.4" height="29.8" fill="#fff"/>
<rect x="984.5" y="406.6" width="46.1" height="30.1" fill="#fff"/>
<rect x="984.5" y="604.3" width="46.1" height="30.4" fill="#fff"/>
<rect x="4.5" y="5.5" width="1037" height="959" fill="none" stroke="#858585" stroke-width="1"/>
<g style="will-change:transform">
<text x="17.96" y="44.06" class="t"> 05°</text>
<path d="M763,0 L583,0 L583,1147 Q518,1085 412.5,1023 Q307,961 223,930 L223,1104 Q374,1175 486.5,1276 Q599,1377 646,1472 L763,1472 Z" transform="translate(17.96,44.06) scale(0.01147,-0.01147)" fill="#000"/>
<text x="17.96" y="155.00" class="t" text-anchor="start">90°</text>
<text x="17.74" y="281.00" class="t" text-anchor="start">75°</text>
<text x="17.44" y="427.64" class="t" text-anchor="start">60°</text>
<text x="17.68" y="625.16" class="t" text-anchor="start">45°</text>
<text x="23.84" y="943.90" class="t" text-anchor="start">30°</text>
<text x="270.92" y="943.90" class="t"> 5°</text>
<path d="M763,0 L583,0 L583,1147 Q518,1085 412.5,1023 Q307,961 223,930 L223,1104 Q374,1175 486.5,1276 Q599,1377 646,1472 L763,1472 Z" transform="translate(270.92,943.90) scale(0.01147,-0.01147)" fill="#000"/>
<text x="511.32" y="944.16" class="t" text-anchor="start">0°</text>
<text x="738.18" y="943.90" class="t"> 5°</text>
<path d="M763,0 L583,0 L583,1147 Q518,1085 412.5,1023 Q307,961 223,930 L223,1104 Q374,1175 486.5,1276 Q599,1377 646,1472 L763,1472 Z" transform="translate(738.18,943.90) scale(0.01147,-0.01147)" fill="#000"/>
<text x="983.72" y="943.90" class="t" text-anchor="start">30°</text>
<text x="975.76" y="44.00" class="t"> 05°</text>
<path d="M763,0 L583,0 L583,1147 Q518,1085 412.5,1023 Q307,961 223,930 L223,1104 Q374,1175 486.5,1276 Q599,1377 646,1472 L763,1472 Z" transform="translate(975.76,44.00) scale(0.01147,-0.01147)" fill="#000"/>
<text x="988.44" y="155.36" class="t" text-anchor="start">90°</text>
<text x="989.18" y="280.82" class="t" text-anchor="start">75°</text>
<text x="988.56" y="427.64" class="t" text-anchor="start">60°</text>
<text x="988.96" y="625.16" class="t" text-anchor="start">45°</text>
<text x="522.10" y="484.64" class="t" text-anchor="middle">200</text>
<text x="522.66" y="647.96" class="t" text-anchor="middle">300</text>
<text x="522.34" y="810.64" class="t" text-anchor="middle">400</text>
<text x="19.32" y="1002.34" class="t2" text-anchor="start">cd/klm</text>
<text x="86.68" y="1028.84" class="t">C0 - C 80</text>
<path d="M763,0 L583,0 L583,1147 Q518,1085 412.5,1023 Q307,961 223,930 L223,1104 Q374,1175 486.5,1276 Q599,1377 646,1472 L763,1472 Z" transform="translate(154.58,1028.84) scale(0.01147,-0.01147)" fill="#000"/>
<text x="301.16" y="1028.92" class="t" text-anchor="start">C90 - C270</text>
<text x="900.36" y="997.70" class="t3" text-anchor="start">η</text>
<text x="924.32" y="1000.74" class="t3" text-anchor="start">=</text>
<text x="950.35" y="1001.70" class="t2"> 00%</text>
<path d="M763,0 L583,0 L583,1147 Q518,1085 412.5,1023 Q307,961 223,930 L223,1104 Q374,1175 486.5,1276 Q599,1377 646,1472 L763,1472 Z" transform="translate(950.35,1001.70) scale(0.01416,-0.01416)" fill="#000"/>
</g>
<line x1="15" y1="1020.5" x2="82" y2="1020.5" stroke="#8a2a2a" stroke-width="1"/>
<line x1="228" y1="1020.5" x2="295" y2="1020.5" stroke="#1e1e5a" stroke-width="1"/>
<line x1="0" y1="1048.5" x2="290" y2="1048.5" stroke="#333" stroke-width="1" stroke-dasharray="1 1"/>
<line x1="0" y1="1048.5" x2="290" y2="1048.5" stroke="#999" stroke-width="1" stroke-dasharray="1 1" stroke-dashoffset="1"/>
<line x1="290" y1="1048.5" x2="1047" y2="1048.5" stroke="#5a5a5a" stroke-width="1"/>
</svg>
</body></html>
